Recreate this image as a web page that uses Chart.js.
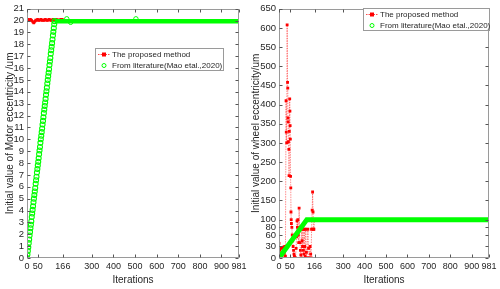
<!DOCTYPE html>
<html><head><meta charset="utf-8">
<script src="https://cdn.jsdelivr.net/npm/chart.js@4"></script>
<style>
html,body{margin:0;padding:0;background:#fff;}
#wrap{display:flex;width:500px;height:289px;}
canvas{display:block;}
</style></head><body>
<div id="wrap"><canvas id="c1" width="250" height="289"></canvas><canvas id="c2" width="250" height="289"></canvas></div>
<script>
// ---------- data ----------
const iterationTicks = [0, 50, 166, 300, 400, 500, 600, 700, 800, 900, 981];
const motorYTicks = [0,1,2,3,4,5,6,7,8,9,10,11,12,13,14,15,16,17,18,19,20,21];
const wheelYTicks = [0,30,60,80,100,150,200,250,300,350,400,450,500,550,600,650];

const seriesNames = ['The proposed method', 'From literature(Mao etal.,2020)'];

// Left: motor eccentricity
const motorProposedIter = [0,1,4,7,10,13,16,19,22,25,28,31,34,37,40,43,46,49,52,55,58,61,64,67,70,73,76,79,82,85,88,91,94,97,100,103,106,109,112,115,118,121,124,127,130,133,136,139,142,145,148,151,154,157,160,163,166];
const motorProposedVal  = [0,20.05,20.1,20.05,20.0,20.05,20.1,20.05,20.0,19.95,
                           19.85,19.8,19.85,19.95,20.05,20.0,20.05,20.1,20.05,20.0,
                           20.05,20.05,20.1,20.05,20.0,20.05,20.05,20.0,20.05,20.1,
                           20.05,20.05,20.0,20.05,20.05,20.1,20.05,20.05,20.0,20.05,
                           20.05,20.1,20.05,20.05,20.0,20.05,20.1,20.05,20.05,20.0,
                           20.05,20.05,20.05,20.1,20.05,20.1,20.05];
const motorLitRampIter = [0,2,4,6,8,10,12,14,16,18,20,22,24,26,28,30,32,34,36,38,40,42,44,46,48,50,52,54,56,58,60,62,64,66,68,70,72,74,76,78,80,82,84,86,88,90,92,94,96,98,100,102,104,106,108,110,112,114,116,118,120,122,124,126,128];
const motorLitRampVal  = [0,0.3,0.6,0.9,1.25,1.55,1.9,2.2,2.5,2.8,
                          3.1,3.45,3.75,4.05,4.35,4.7,5.0,5.3,5.6,5.9,
                          6.25,6.55,6.85,7.2,7.5,7.8,8.1,8.4,8.75,9.05,
                          9.35,9.7,10.0,10.3,10.6,10.9,11.25,11.55,11.85,12.2,
                          12.5,12.8,13.1,13.4,13.75,14.05,14.35,14.7,15.0,15.3,
                          15.6,15.9,16.25,16.55,16.85,17.2,17.5,17.8,18.1,18.4,
                          18.75,19.05,19.35,19.7,19.95];
const motorLitPlateauIter = [128, 981];
const motorLitPlateauVal  = [19.95, 19.95];
const motorLitOutlierIter = [184, 202, 504];
const motorLitOutlierVal  = [20.15, 19.85, 20.15];

// Right: wheel eccentricity
const wheelProposedIter = [0,3,6,9,12,15,18,21,24,27,30,33,34,36,38,40,41,42,43,44,46,47,48,50,51,52,53,54,55,56,57,58,60,62,64,66,68,70,72,74,77,80,82,84,86,88,90,92,94,96,98,100,102,104,106,108,110,112,114,116,118,120,122,125,128,130,135,138,140,145,148,150,152,155,157,159,161,163,166,981];
const wheelProposedVal  = [38,20,25,10,3,25,0,28,12,30,5,410,328,300,608,458,443,365,355,303,283,215,330,415,383,345,310,213,183,120,100,90,80,60,45,30,20,10,4,0,0,25,55,97,80,100,60,40,130,75,40,20,8,0,75,45,30,75,20,10,75,30,5,75,15,0,75,25,0,30,10,0,75,125,172,120,75,75,100,100];
const wheelLitIter = [0, 130, 981];
const wheelLitVal  = [0, 100, 100];

// ---------- styling / helpers ----------
Chart.defaults.font.family = "'Liberation Sans', Arial, sans-serif";
Chart.defaults.color = '#262626';
const AXIS = '#9a9a9a';
const RED = '#ff0000';
const GREEN = '#00ff00';
const pts = (xs, ys) => xs.map((x, i) => ({x, y: ys[i]}));

const framePlugin = {
  id: 'frame',
  afterDatasetsDraw(chart) {
    const {ctx, chartArea: a, scales: {x, y}} = chart;
    const L = Math.round(a.left) + 0.5, R = Math.round(a.right) - 0.5;
    const T = Math.round(a.top) + 0.5, B = Math.round(a.bottom) - 0.5;
    ctx.save();
    ctx.strokeStyle = AXIS; ctx.lineWidth = 1;
    ctx.strokeRect(L, T, R - L, B - T);
    ctx.strokeStyle = '#555';
    ctx.beginPath();
    x.ticks.forEach(t => {
      const p = Math.round(x.getPixelForValue(t.value)) + 0.5;
      ctx.moveTo(p, B); ctx.lineTo(p, B - 3);
      ctx.moveTo(p, T); ctx.lineTo(p, T + 3);
    });
    y.ticks.forEach(t => {
      const p = Math.round(y.getPixelForValue(t.value)) + 0.5;
      ctx.moveTo(L, p); ctx.lineTo(L + 3, p);
      ctx.moveTo(R, p); ctx.lineTo(R - 3, p);
    });
    ctx.stroke();
    ctx.restore();
  }
};

const boxLegendPlugin = {
  id: 'boxLegend',
  afterDraw(chart, args, o) {
    const ctx = chart.ctx;
    ctx.save();
    ctx.fillStyle = '#fff';
    ctx.fillRect(o.x, o.y, o.w, o.h);
    ctx.strokeStyle = AXIS; ctx.lineWidth = 1;
    ctx.strokeRect(o.x + 0.5, o.y + 0.5, o.w - 1, o.h - 1);
    ctx.font = "8px 'Liberation Sans', Arial, sans-serif";
    ctx.textBaseline = 'middle';
    ctx.fillStyle = '#262626';
    seriesNames.forEach((name, i) => {
      const cy = o.y + o.rowTop + i * o.rowGap;
      const x0 = o.x + 3, x1 = o.x + 15, cx = (x0 + x1) / 2;
      if (i === 0) {
        ctx.strokeStyle = 'rgba(255,0,0,0.7)'; ctx.setLineDash([1.5, 1]);
        ctx.beginPath(); ctx.moveTo(x0, cy + 0.5); ctx.lineTo(x1, cy + 0.5); ctx.stroke();
        ctx.setLineDash([]);
        ctx.fillStyle = RED; ctx.fillRect(cx - 2, cy - 1.5, 4, 4);
      } else {
        ctx.strokeStyle = GREEN; ctx.lineWidth = 1;
        ctx.beginPath(); ctx.arc(cx, cy + 0.5, 2, 0, Math.PI * 2); ctx.stroke();
      }
      ctx.fillStyle = '#262626';
      ctx.fillText(name, x1 + 2, cy + 0.5);
    });
    ctx.restore();
  }
};

function makeScales(yTicks, yMax, yTitle, yWidth, yTitlePad) {
  return {
    x: {
      type: 'linear', min: 0, max: 981,
      afterBuildTicks: s => { s.ticks = iterationTicks.map(v => ({value: v})); },
      afterFit: s => { s.height = 31; },
      grid: {display: false, drawTicks: false},
      border: {display: false},
      ticks: {autoSkip: false, maxRotation: 0, padding: 3, font: {size: 9}, color: '#262626',
              callback: v => String(v)},
      title: {display: true, text: 'Iterations', font: {size: 10}, color: '#262626', padding: {top: 0, bottom: 3}}
    },
    y: {
      type: 'linear', min: 0, max: yMax,
      afterBuildTicks: s => { s.ticks = yTicks.map(v => ({value: v})); },
      afterFit: s => { s.width = yWidth; },
      grid: {display: false, drawTicks: false},
      border: {display: false},
      ticks: {autoSkip: false, padding: 3, font: {size: 9.5}, color: '#262626', callback: v => String(v)},
      title: {display: true, text: yTitle, font: {size: 10}, color: '#262626', padding: {top: yTitlePad, bottom: 0}}
    }
  };
}

const common = {
  responsive: false, animation: false, devicePixelRatio: 1,
  events: [],
};

new Chart(document.getElementById('c1'), {
  type: 'scatter',
  data: {
    datasets: [
      {label: seriesNames[1], data: pts(motorLitRampIter, motorLitRampVal), showLine: false,
       pointStyle: 'circle', pointRadius: 2.5, pointBorderWidth: 1.1, borderColor: GREEN, backgroundColor: 'rgba(0,0,0,0)', order: 0},
      {label: seriesNames[1] + ' plateau', data: pts(motorLitPlateauIter, motorLitPlateauVal), showLine: true,
       borderColor: GREEN, borderWidth: 4.5, pointRadius: 0, order: 0},
      {label: seriesNames[1] + ' outliers', data: pts(motorLitOutlierIter, motorLitOutlierVal), showLine: false,
       pointStyle: 'circle', pointRadius: 2.2, pointBorderWidth: 1, borderColor: GREEN, backgroundColor: 'rgba(0,0,0,0)', order: 0},
      {label: seriesNames[0], data: pts(motorProposedIter, motorProposedVal), showLine: true,
       borderColor: 'rgba(255,0,0,0.45)', borderWidth: 1, borderDash: [1.5, 1],
       pointStyle: 'rect', pointRadius: 1.8, pointBorderWidth: 0, pointBackgroundColor: RED, order: 1}
    ]
  },
  options: Object.assign({}, common, {
    layout: {padding: {top: 8, right: 11, left: 0, bottom: 0}},
    scales: makeScales(motorYTicks, 21, 'Initial value of Motor eccentricity /um', 27, 4),
    plugins: {
      legend: {display: false}, tooltip: {enabled: false},
      boxLegend: {x: 95, y: 48, w: 129, h: 23, rowTop: 6, rowGap: 11}
    }
  }),
  plugins: [framePlugin, boxLegendPlugin]
});

new Chart(document.getElementById('c2'), {
  type: 'scatter',
  data: {
    datasets: [
      {label: seriesNames[1], data: pts(wheelLitIter, wheelLitVal), showLine: true,
       borderColor: GREEN, borderWidth: 5, pointRadius: 0, order: 0},
      {label: seriesNames[0], data: pts(wheelProposedIter, wheelProposedVal), showLine: true,
       borderColor: 'rgba(255,0,0,0.45)', borderWidth: 1, borderDash: [1.5, 1],
       pointStyle: 'rect', pointRadius: 2, pointBorderWidth: 0, pointBackgroundColor: RED, order: 1}
    ]
  },
  options: Object.assign({}, common, {
    layout: {padding: {top: 8, right: 11, left: 0, bottom: 0}},
    scales: makeScales(wheelYTicks, 650, 'Initial value of wheel eccentricity/um', 29, 0),
    plugins: {
      legend: {display: false}, tooltip: {enabled: false},
      boxLegend: {x: 113, y: 8, w: 127, h: 23, rowTop: 6, rowGap: 11}
    }
  }),
  plugins: [framePlugin, boxLegendPlugin]
});
</script>
</body></html>
